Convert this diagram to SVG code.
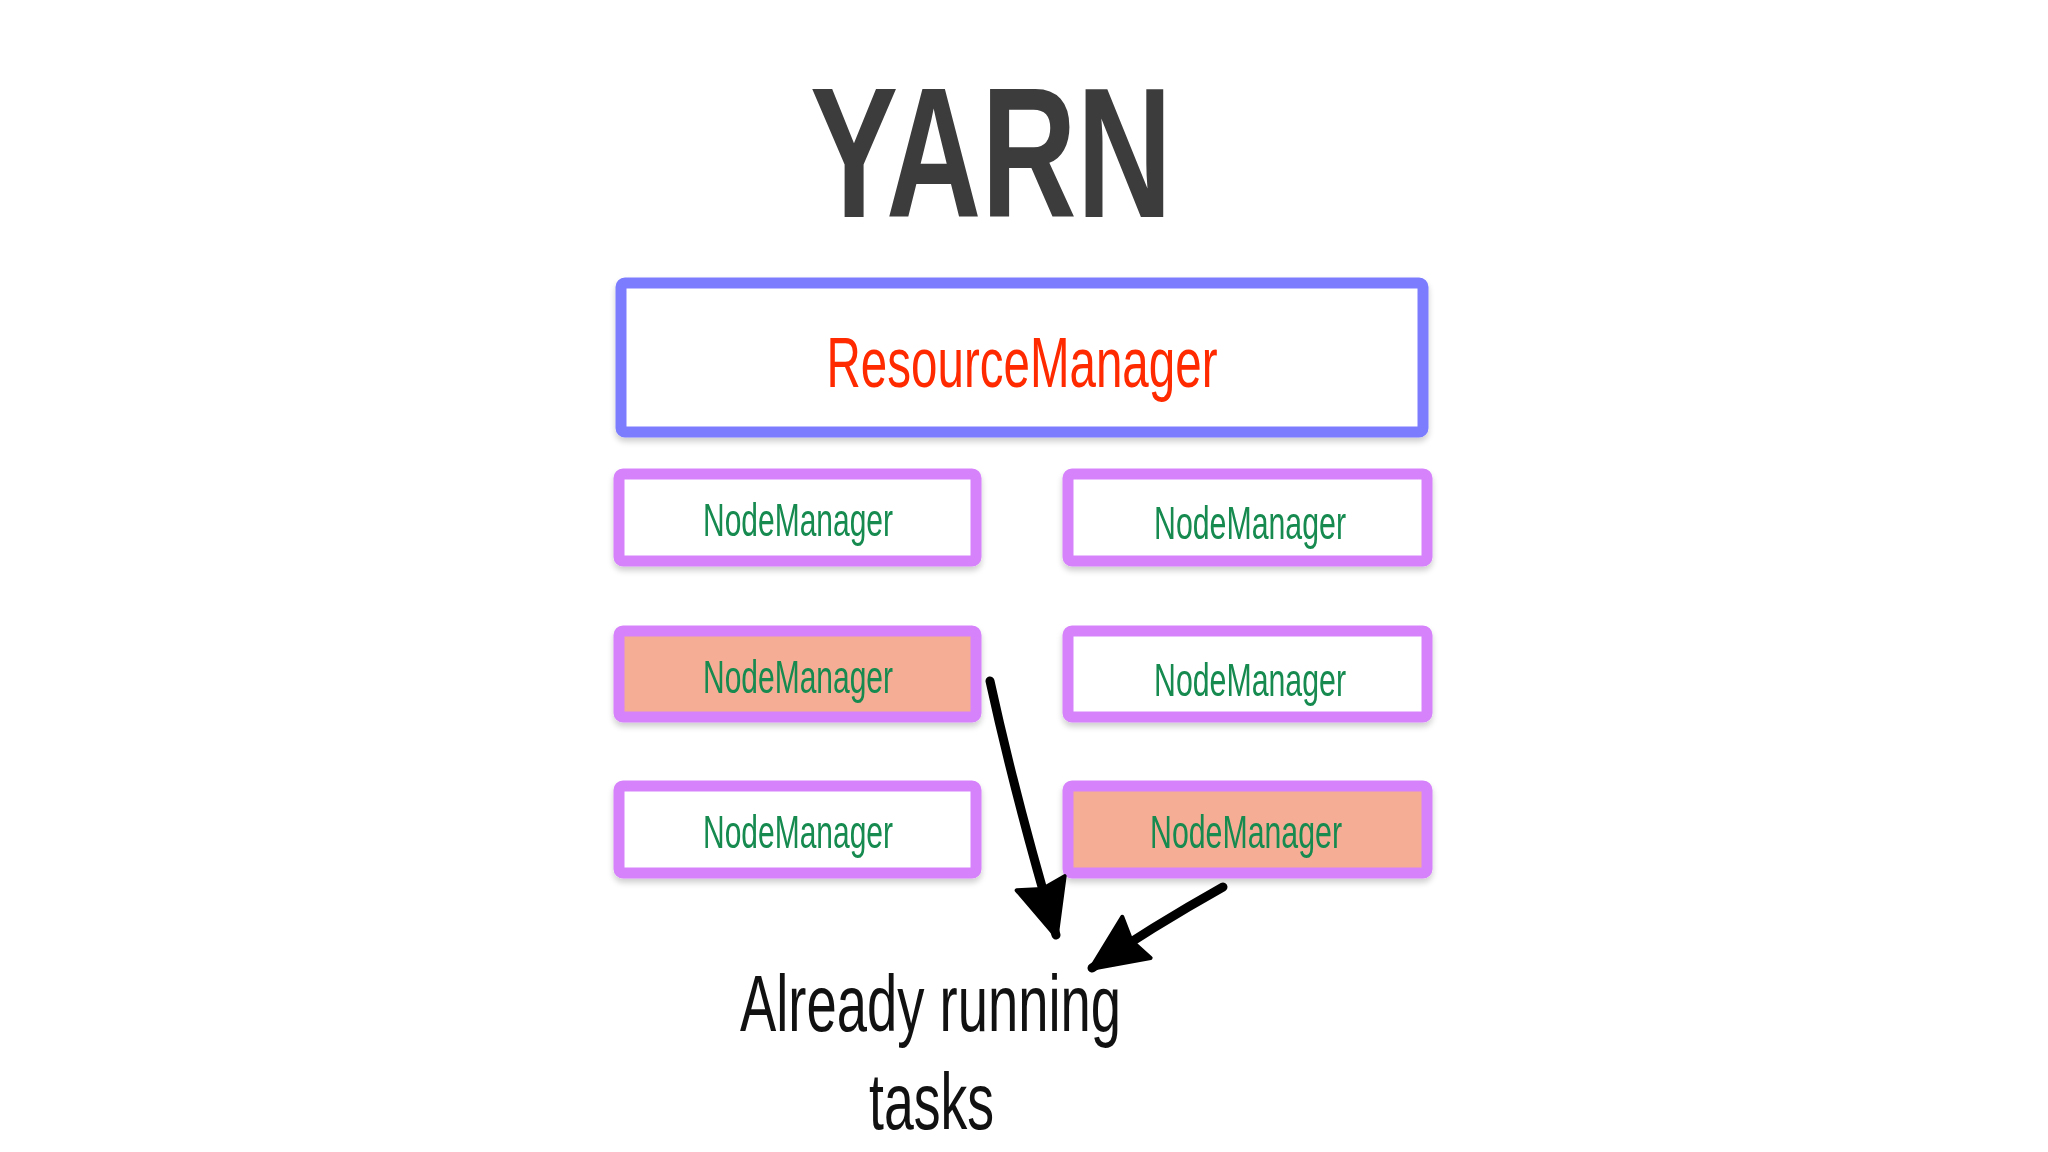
<svg xmlns="http://www.w3.org/2000/svg" width="2048" height="1152" viewBox="0 0 2048 1152">
<defs>
<style>
.rm{fill:#ffffff;stroke:#7c7cff;stroke-width:11;stroke-linejoin:round}
.nm{fill:#ffffff;stroke:#d682fb;stroke-width:11;stroke-linejoin:round}
.nm.busy{fill:#f6ad95}
.nmt{font-family:"Liberation Sans Narrow","Liberation Sans",sans-serif;font-size:46px;fill:#138a4f;text-anchor:middle}
.lbl{font-family:"Liberation Sans Narrow","Liberation Sans",sans-serif;font-size:80px;fill:#111111}
.ttl{font-family:"Liberation Sans Narrow","Liberation Sans",sans-serif;font-size:186px;font-weight:bold;fill:#3c3c3c;text-anchor:middle}
.rmt{font-family:"Liberation Sans Narrow","Liberation Sans",sans-serif;font-size:70px;fill:#ff2a00;text-anchor:middle}
.conn{fill:none;stroke:#000000;stroke-width:9;stroke-linecap:round}
</style>
<marker id="ah" markerUnits="userSpaceOnUse" markerWidth="70" markerHeight="70" viewBox="0 0 70 70" refX="58" refY="35" orient="auto">
<path d="M4,10 L60,35 L4,60 L10,35 Z" fill="#000000" stroke="#000000" stroke-width="4" stroke-linejoin="round"/>
</marker>
<filter id="sh" x="-5%" y="-10%" width="110%" height="130%">
<feGaussianBlur in="SourceAlpha" stdDeviation="3"/>
<feOffset dx="0" dy="4"/>
<feComponentTransfer><feFuncA type="linear" slope="0.2"/></feComponentTransfer>
<feMerge><feMergeNode/><feMergeNode in="SourceGraphic"/></feMerge>
</filter>
</defs>
<rect width="2048" height="1152" fill="#ffffff"/>
<text id="title" class="ttl" x="991" y="217" textLength="362" lengthAdjust="spacingAndGlyphs">YARN</text>
<g id="resourcemanager" filter="url(#sh)">
<rect class="rm" x="621" y="283" width="802" height="149" rx="4"/>
<text class="rmt" x="1022" y="387" textLength="391" lengthAdjust="spacingAndGlyphs">ResourceManager</text>
</g>
<g id="nm1" filter="url(#sh)">
<rect class="nm" x="619" y="474" width="357" height="87" rx="4"/>
<text class="nmt" x="798" y="536" textLength="190" lengthAdjust="spacingAndGlyphs">NodeManager</text>
</g>
<g id="nm2" filter="url(#sh)">
<rect class="nm" x="1068" y="474" width="359" height="87" rx="4"/>
<text class="nmt" x="1250" y="539" textLength="192" lengthAdjust="spacingAndGlyphs">NodeManager</text>
</g>
<g id="nm3" filter="url(#sh)">
<rect class="nm busy" x="619" y="631" width="357" height="86" rx="4"/>
<text class="nmt" x="798" y="693" textLength="190" lengthAdjust="spacingAndGlyphs">NodeManager</text>
</g>
<g id="nm4" filter="url(#sh)">
<rect class="nm" x="1068" y="631" width="359" height="86" rx="4"/>
<text class="nmt" x="1250" y="696" textLength="192" lengthAdjust="spacingAndGlyphs">NodeManager</text>
</g>
<g id="nm5" filter="url(#sh)">
<rect class="nm" x="619" y="786" width="357" height="87" rx="4"/>
<text class="nmt" x="798" y="848" textLength="190" lengthAdjust="spacingAndGlyphs">NodeManager</text>
</g>
<g id="nm6" filter="url(#sh)">
<rect class="nm busy" x="1068" y="786" width="359" height="87" rx="4"/>
<text class="nmt" x="1246" y="848" textLength="192" lengthAdjust="spacingAndGlyphs">NodeManager</text>
</g>
<g id="connectors">
<path class="conn" d="M990,681 Q1016,800 1056,935" marker-end="url(#ah)"/>
<path class="conn" d="M1223,887 Q1150,928 1092,968" marker-end="url(#ah)"/>
</g>
<g id="label">
<text class="lbl" x="740" y="1031" textLength="381" lengthAdjust="spacingAndGlyphs">Already running</text>
<text class="lbl" x="869" y="1129" textLength="125" lengthAdjust="spacingAndGlyphs">tasks</text>
</g>
</svg>
